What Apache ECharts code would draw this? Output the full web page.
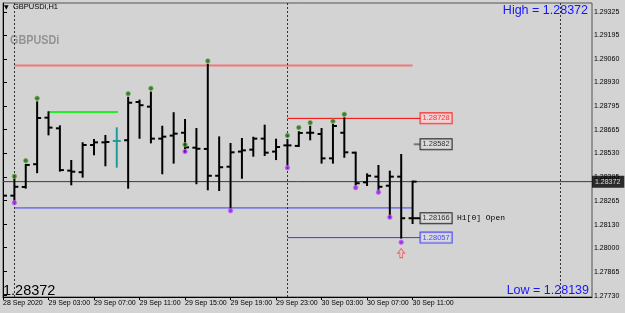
<!DOCTYPE html>
<html><head><meta charset="utf-8">
<script src="https://cdn.jsdelivr.net/npm/echarts@6/dist/echarts.min.js"></script>
<style>html,body{margin:0;padding:0;background:#d3d3d3}#c{width:625px;height:313px}</style>
</head><body><div id="c"></div>
<script>
// ---- data ----
const barIdx = [0,1,2,3,4,5,6,7,8,9,10,11,12,13,14,15,16,17,18,19,20,21,22,23,24,25,26,27,28,29,30,31,32,33,34,35,36];
const opens  = [1.28336,1.28293,1.28342,1.28470,1.28732,1.28672,1.28434,1.28425,1.28578,1.28593,1.28601,1.28605,1.28820,1.28794,1.28614,1.28631,1.28647,1.28563,1.28556,1.28405,1.28456,1.28541,1.28552,1.28614,1.28541,1.28576,1.28573,1.28647,1.28640,1.28503,1.28647,1.28535,1.28368,1.28400,1.28349,1.28400,1.28166];
const highs  = [1.28353,1.28390,1.28466,1.28818,1.28762,1.28683,1.28488,1.28588,1.28606,1.28629,1.28672,1.28844,1.28828,1.28873,1.28681,1.28757,1.28719,1.28668,1.29030,1.28621,1.28584,1.28612,1.28619,1.28687,1.28608,1.28606,1.28650,1.28681,1.28668,1.28691,1.28728,1.28535,1.28413,1.28460,1.28428,1.28522,1.28372];
const lows   = [1.28287,1.28266,1.28338,1.28425,1.28638,1.28434,1.28357,1.28400,1.28526,1.28464,1.28456,1.28338,1.28619,1.28593,1.28419,1.28479,1.28541,1.28363,1.28329,1.28325,1.28224,1.28394,1.28518,1.28522,1.28499,1.28466,1.28573,1.28610,1.28479,1.28479,1.28512,1.28353,1.28353,1.28325,1.28175,1.28057,1.28139];
const closes = [1.28293,1.28343,1.28466,1.28730,1.28676,1.28437,1.28428,1.28578,1.28593,1.28595,1.28601,1.28816,1.28802,1.28614,1.28625,1.28642,1.28565,1.28557,1.28405,1.28453,1.28537,1.28548,1.28614,1.28535,1.28567,1.28576,1.28646,1.28647,1.28503,1.28685,1.28537,1.28363,1.28405,1.28343,1.28400,1.28166,1.28372];

const upDotIdx    = [1,2,3,11,13,16,18,25,26,27,29,30];
const upDotPrice  = [1.28402,1.28490,1.28841,1.28867,1.28897,1.28580,1.29051,1.28631,1.28676,1.28704,1.28712,1.28751];
const dnDotIdx    = [1,16,20,25,31,33,34,35];
const dnDotPrice  = [1.28253,1.28541,1.28208,1.28450,1.28338,1.28312,1.28171,1.28031];
const arrowIdx = [35];
const arrowPrice = [1.27970];

const yTicks = [1.29325,1.29195,1.29060,1.28930,1.28795,1.28665,1.28530,1.28395,1.28265,1.28130,1.28000,1.27865,1.27730];
const xTickIdx = [0,4,8,12,16,20,24,28,32,36];
const xLabels = ['28 Sep 2020','29 Sep 03:00','29 Sep 07:00','29 Sep 11:00','29 Sep 15:00','29 Sep 19:00','29 Sep 23:00','30 Sep 03:00','30 Sep 07:00','30 Sep 11:00'];
const separatorIdx = [1,25,49];

const prevDayHigh = 1.29026, prevDayLow = 1.28224;
const dayHigh = 1.28728, dayLow = 1.28057;
const greenLevel = 1.28764, greyLevel = 1.28582, barOpen = 1.28166;
const lastPrice = 1.28372, curHigh = 1.28372, curLow = 1.28139;

// ---- chart ----
const yMin = 1.277227, yMax = 1.293773, xMax = 51.77;
const tealBar = 10;
const chart = echarts.init(document.getElementById('c'), null, {renderer:'canvas'});
const font = 'Liberation Sans';
function seg(x1, x2, y, color, width, type) {
  return {type:'line', data:[[x1,y],[x2,y]], symbol:'none', silent:true, animation:false,
    lineStyle:{color:color, width:width, type:type||'solid'}, z:3};
}
function tag(x, y, text, color, bg, extra) {
  return {type:'scatter', data:[[x,y]], symbolSize:0, silent:true, animation:false, z:6, clip:false,
    label:Object.assign({show:true, position:'right', distance:0, formatter:text, color:color, fontFamily:font, fontSize:7.5,
      backgroundColor:bg, borderColor:color, borderWidth:1, padding:[1,2,0,2], lineHeight:9}, extra||{})};
}
const option = {
  backgroundColor:'#d3d3d3',
  animation:false,
  grid:{left:2, right:33, top:3, bottom:16, show:true, borderColor:'#555', borderWidth:1},
  xAxis:{type:'value', min:0, max:xMax,
    axisLine:{show:true, onZero:false, lineStyle:{color:'#000'}},
    axisTick:{show:true, length:3, customValues:xTickIdx, lineStyle:{color:'#000'}},
    axisLabel:{customValues:xTickIdx, formatter:v=>xLabels[xTickIdx.indexOf(Math.round(v))]||'', align:'left',
      fontSize:7, fontFamily:font, color:'#000', margin:3},
    splitLine:{show:false}},
  yAxis:{type:'value', position:'right', min:yMin, max:yMax,
    axisLine:{show:true, lineStyle:{color:'#000'}},
    axisTick:{show:true, length:4, customValues:yTicks, lineStyle:{color:'#000'}},
    axisLabel:{customValues:yTicks, formatter:v=>v.toFixed(5), fontSize:7, fontFamily:font, color:'#000', margin:2},
    splitLine:{show:false}},
  series:[
    seg(1, 36, prevDayHigh, '#f07878', 2),
    seg(1, 36, prevDayLow, '#3a3aff', 1),
    seg(25, 36.7, dayHigh, '#ff0000', 1),
    seg(25, 36.7, dayLow, '#3a3aff', 1),
    seg(4, 10.1, greenLevel, '#22ee22', 2),
    seg(36.1, 36.7, greyLevel, '#777', 2),
    seg(36, 36.7, barOpen, '#000', 2),
    seg(0, xMax, lastPrice, '#3a3a3a', 1),
    {type:'line', data:[], silent:true, animation:false, z:2,
      markLine:{symbol:'none', silent:true, animation:false,
        lineStyle:{color:'#333', type:[2,2], width:1},
        label:{show:false},
        data:separatorIdx.map(v=>({xAxis:v}))}},
    {type:'custom', clip:true, z:5, animation:false, silent:true,
      data:barIdx.map((i,k)=>[i, opens[k], highs[k], lows[k], closes[k]]),
      encode:{x:0, y:[1,2,3,4]},
      renderItem:function(params, api){
        const x = api.value(0);
        const o = api.coord([x, api.value(1)]);
        const h = api.coord([x, api.value(2)]);
        const l = api.coord([x, api.value(3)]);
        const c = api.coord([x, api.value(4)]);
        const col = (x === tealBar) ? '#1e9c9c' : '#000';
        const st = {stroke:col, lineWidth:2};
        return {type:'group', children:[
          {type:'line', shape:{x1:h[0], y1:h[1]-1, x2:l[0], y2:l[1]+1}, style:st},
          {type:'line', shape:{x1:o[0]-4, y1:o[1], x2:o[0], y2:o[1]}, style:st},
          {type:'line', shape:{x1:c[0], y1:c[1], x2:c[0]+4, y2:c[1]}, style:st}
        ]};
      }},
    {type:'scatter', z:7, silent:true, animation:false, symbol:'circle', symbolSize:4.5,
      itemStyle:{color:'#13631f', borderColor:'#7fb24a', borderWidth:1},
      data:upDotIdx.map((i,k)=>[i, upDotPrice[k]])},
    {type:'scatter', z:7, silent:true, animation:false, symbol:'circle', symbolSize:4.5,
      itemStyle:{color:'#9a10e8', borderColor:'#c070ff', borderWidth:1},
      data:dnDotIdx.map((i,k)=>[i, dnDotPrice[k]])},
    {type:'scatter', z:7, silent:true, animation:false,
      symbol:'path://M5,0 L10,5 L7,5 L7,10 L3,10 L3,5 L0,5 Z', symbolSize:[7,9],
      itemStyle:{color:'rgba(0,0,0,0)', borderColor:'#ff4848', borderWidth:1},
      data:arrowIdx.map((i,k)=>[i, arrowPrice[k]])},
    tag(36.7, dayHigh, dayHigh.toFixed(5), '#ff0000', '#f6d6d6'),
    tag(36.7, greyLevel, greyLevel.toFixed(5), '#000', '#dcdcdc'),
    tag(36.7, barOpen, barOpen.toFixed(5), '#000', '#dcdcdc'),
    tag(36.7, dayLow, dayLow.toFixed(5), '#2222ff', '#dcdcdc'),
    tag(xMax, lastPrice, lastPrice.toFixed(5), '#fff', '#000', {borderWidth:0, fontSize:7, padding:[2,4,1,3]})
  ],
  graphic:[
    {type:'text', left:4, top:4, style:{text:'▼', fontSize:6, fill:'#000', fontFamily:'DejaVu Sans'}},
    {type:'text', left:13, top:3, style:{text:'GBPUSDi,H1', fontSize:7.5, fill:'#000', fontFamily:font}},
    {type:'text', x:10, y:33, scaleX:0.8, style:{text:'GBPUSDi', fontSize:13.5, fontWeight:'bold', fill:'#939393', fontFamily:font}},
    {type:'text', right:37, top:4, style:{text:'High = ' + curHigh.toFixed(5), fontSize:12.5, fill:'#1414ff', fontFamily:font}},
    {type:'text', right:36, top:284, style:{text:'Low = ' + curLow.toFixed(5), fontSize:12.5, fill:'#1414ff', fontFamily:font}},
    {type:'text', left:3, top:283, style:{text:lastPrice.toFixed(5), fontSize:14.5, fill:'#000', fontFamily:font}},
    {type:'text', left:457, top:214, style:{text:'H1[0] Open', fontSize:8, fill:'#000', fontFamily:'Liberation Mono'}}
  ]
};
chart.setOption(option);
</script></body></html>
